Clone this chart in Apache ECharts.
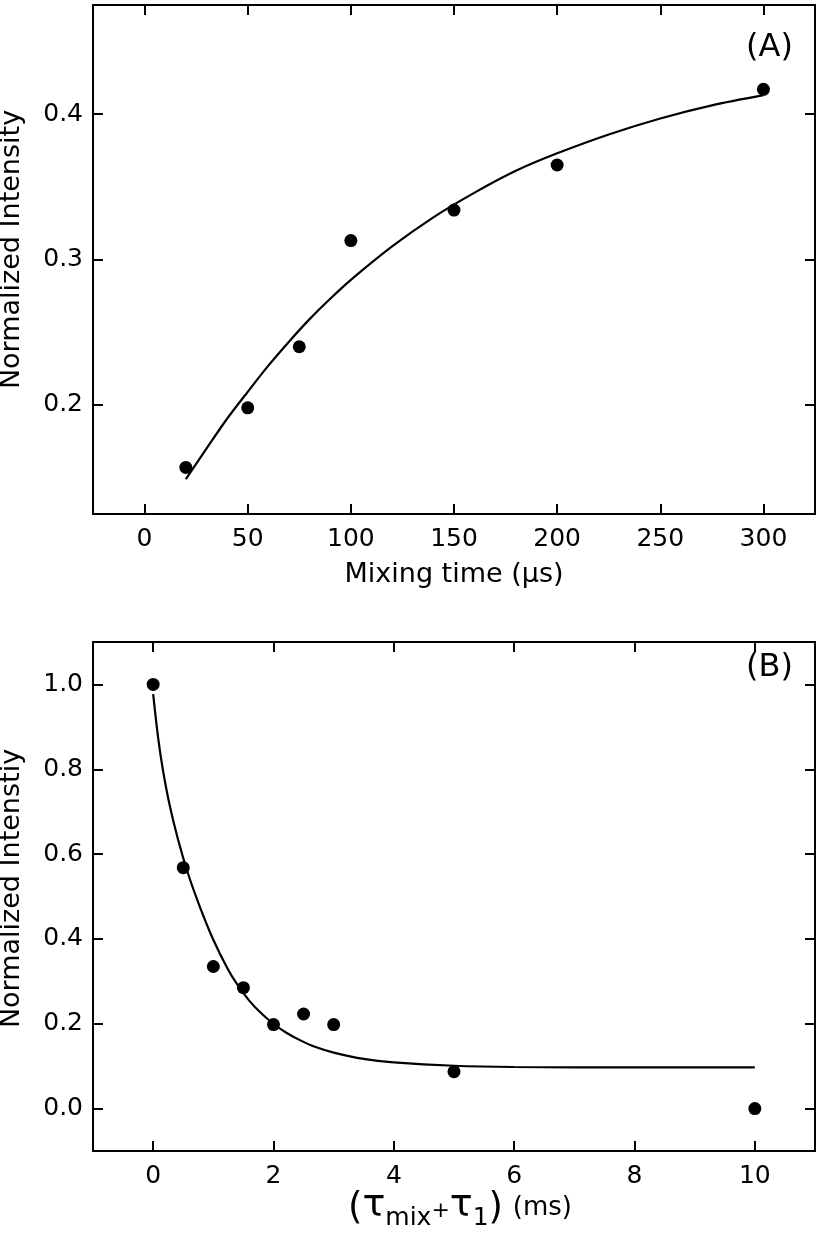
<!DOCTYPE html>
<html>
<head>
<meta charset="utf-8">
<script src="https://cdn.jsdelivr.net/npm/echarts@6/dist/echarts.min.js"></script>
<style>
html,body{margin:0;padding:0;background:#fff;}
#chart{width:820px;height:1237px;}
</style>
</head>
<body>
<div id="chart"></div>
<script>
// Panel A data
const mixTimeA = [20, 50, 75, 100, 150, 200, 300];
const intensityA = [0.157, 0.198, 0.240, 0.313, 0.334, 0.365, 0.417];
const fitXA = [20, 30, 40, 50, 60, 70, 80, 90, 100, 120, 140, 160, 180, 200, 225, 250, 275, 300];
const fitYA = [0.149, 0.170, 0.1905, 0.209, 0.227, 0.2435, 0.259, 0.273, 0.286, 0.309, 0.329, 0.346, 0.361, 0.373, 0.386, 0.397, 0.406, 0.413];
const xTicksA = [0, 50, 100, 150, 200, 250, 300];
const yTicksA = [0.2, 0.3, 0.4];

// Panel B data
const tauB = [0, 0.5, 1, 1.5, 2, 2.5, 3, 5, 10];
const intensityB = [1.0, 0.568, 0.335, 0.285, 0.198, 0.223, 0.198, 0.087, 0.0];
const fitXB = [0, 0.08, 0.16, 0.27, 0.41, 0.575, 0.77, 0.99, 1.24, 1.4, 1.6, 1.8, 2.0, 2.2, 2.43, 2.7, 3.0, 3.5, 4, 5, 6, 8, 10];
const fitYB = [0.977, 0.877, 0.800, 0.718, 0.636, 0.556, 0.478, 0.401, 0.329, 0.292, 0.254, 0.224, 0.200, 0.180, 0.162, 0.145, 0.132, 0.117, 0.109, 0.101, 0.098, 0.097, 0.097];
const xTicksB = [0, 2, 4, 6, 8, 10];
const yTicksB = [0.0, 0.2, 0.4, 0.6, 0.8, 1.0];

const FONT = 'DejaVu Sans';
const black = '#000';

function pairs(xs, ys) { return xs.map((x, i) => [x, ys[i]]); }

function mainX(grid, min, max, ticks, fmt, name, nameGap, nameStyle) {
  return {
    type: 'value', gridIndex: grid, position: 'bottom', min: min, max: max,
    axisLine: { show: true, onZero: false, lineStyle: { color: black, width: 2 } },
    axisTick: { show: true, inside: true, length: 10, customValues: ticks, lineStyle: { color: black, width: 2 } },
    axisLabel: { show: true, customValues: ticks, formatter: fmt, color: black, fontFamily: FONT, fontSize: 25, margin: 13 },
    splitLine: { show: false },
    name: name, nameLocation: 'middle', nameGap: nameGap, nameMoveOverlap: false, nameTextStyle: nameStyle
  };
}
function topX(grid, min, max, ticks) {
  return {
    type: 'value', gridIndex: grid, position: 'top', min: min, max: max,
    axisLine: { show: true, onZero: false, lineStyle: { color: black, width: 2 } },
    axisTick: { show: true, inside: true, length: 10, customValues: ticks, lineStyle: { color: black, width: 2 } },
    axisLabel: { show: false }, splitLine: { show: false }
  };
}
function leftY(grid, min, max, ticks, fmt, name, shift) {
  return {
    type: 'value', gridIndex: grid, position: 'left', min: min, max: max,
    axisLine: { show: true, onZero: false, lineStyle: { color: black, width: 2 } },
    axisTick: { show: true, inside: true, length: 10, customValues: ticks, lineStyle: { color: black, width: 2 } },
    axisLabel: { show: true, customValues: ticks, formatter: fmt, color: black, fontFamily: FONT, fontSize: 25, margin: 10 },
    splitLine: { show: false },
    name: name, nameLocation: 'middle', nameRotate: 90, nameGap: 68, nameMoveOverlap: false,
    nameTextStyle: { color: black, fontFamily: FONT, fontSize: 27, padding: [0, 0, 0, shift] }
  };
}
function rightY(grid, min, max, ticks) {
  return {
    type: 'value', gridIndex: grid, position: 'right', min: min, max: max,
    axisLine: { show: true, onZero: false, lineStyle: { color: black, width: 2 } },
    axisTick: { show: true, inside: true, length: 10, customValues: ticks, lineStyle: { color: black, width: 2 } },
    axisLabel: { show: false }, splitLine: { show: false }
  };
}

const chart = echarts.init(document.getElementById('chart'), null, { renderer: 'canvas' });

const option = {
  backgroundColor: '#fff',
  animation: false,
  grid: [
    { left: 93, right: 5, top: 5, height: 509, outerBoundsMode: 'none', containLabel: false },
    { left: 93, right: 5, top: 642, height: 509, outerBoundsMode: 'none', containLabel: false }
  ],
  xAxis: [
    mainX(0, -25, 325, xTicksA, v => String(v), 'Mixing time (\u03bcs)', 47,
      { color: black, fontFamily: FONT, fontSize: 27 }),
    topX(0, -25, 325, xTicksA),
    mainX(1, -1, 11, xTicksB, v => String(v),
      '{p|(}{t|\u03c4}{sub|mix}{pl|+}{t|\u03c4}{sub|1}{p|)} {u|(ms)}', 36,
      {
        color: black, fontFamily: FONT, padding: [0, 0, 0, 12],
        rich: {
          p: { fontFamily: FONT, fontSize: 37, color: black, lineHeight: 44, verticalAlign: 'middle' },
          t: { fontFamily: FONT, fontSize: 38, color: black, lineHeight: 44, verticalAlign: 'middle', padding: [0, 0, 6, 0] },
          sub: { fontFamily: FONT, fontSize: 25, color: black, lineHeight: 10, verticalAlign: 'bottom', padding: [40, 0, 0, 0] },
          pl: { fontFamily: FONT, fontSize: 22, color: black, lineHeight: 44, verticalAlign: 'middle', padding: [4, 0, 0, 0] },
          u: { fontFamily: FONT, fontSize: 26, color: black, lineHeight: 44, verticalAlign: 'middle', padding: [0, 0, 2, 6] }
        }
      }),
    topX(1, -1, 11, xTicksB)
  ],
  yAxis: [
    leftY(0, 0.125, 0.475, yTicksA, v => v.toFixed(1), 'Normalized Intensity', 20),
    rightY(0, 0.125, 0.475, yTicksA),
    leftY(1, -0.1, 1.1, yTicksB, v => v.toFixed(1), 'Normalized Intenstiy', 16),
    rightY(1, -0.1, 1.1, yTicksB)
  ],
  graphic: [
    { type: 'text', left: 746, top: 32, style: { text: '(A)', font: '32px "DejaVu Sans"', fill: black } },
    { type: 'text', left: 746, top: 652, style: { text: '(B)', font: '32px "DejaVu Sans"', fill: black } }
  ],
  series: [
    {
      type: 'line', xAxisIndex: 0, yAxisIndex: 0, data: pairs(fitXA, fitYA),
      smooth: 0.3, showSymbol: false, symbol: 'none',
      lineStyle: { color: black, width: 2.2, opacity: 1 }, z: 2
    },
    {
      type: 'scatter', xAxisIndex: 0, yAxisIndex: 0, data: pairs(mixTimeA, intensityA),
      symbol: 'circle', symbolSize: 13, itemStyle: { color: black, opacity: 1 }, z: 3
    },
    {
      type: 'line', xAxisIndex: 2, yAxisIndex: 2, data: pairs(fitXB, fitYB),
      smooth: 0.3, showSymbol: false, symbol: 'none',
      lineStyle: { color: black, width: 2.2, opacity: 1 }, z: 2
    },
    {
      type: 'scatter', xAxisIndex: 2, yAxisIndex: 2, data: pairs(tauB, intensityB),
      symbol: 'circle', symbolSize: 13, itemStyle: { color: black, opacity: 1 }, z: 3
    }
  ]
};
chart.setOption(option);
</script>
</body>
</html>
